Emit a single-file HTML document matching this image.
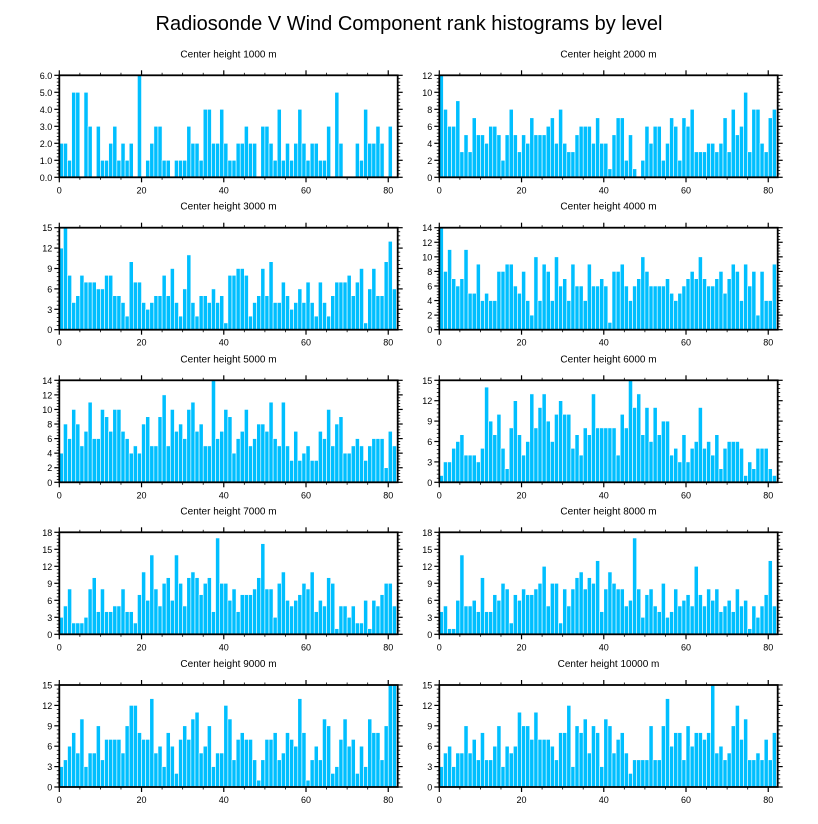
<!DOCTYPE html>
<html><head><meta charset="utf-8"><style>
body{margin:0;background:#fff;}
svg{display:block;font-family:"Liberation Sans",Arial,sans-serif;}
</style></head><body>
<svg id="chart" width="818" height="824" viewBox="0 0 818 824">
<text x="409" y="30" text-anchor="middle" font-size="20">Radiosonde V Wind Component rank histograms by level</text>
</svg>
<script>
const titles = ["Center height 1000 m","Center height 2000 m","Center height 3000 m","Center height 4000 m","Center height 5000 m","Center height 6000 m","Center height 7000 m","Center height 8000 m","Center height 9000 m","Center height 10000 m"];
const yMaxes = [6,12,15,14,14,15,18,18,15,15];
const yStepsMajor = [1,2,3,2,2,3,3,3,3,3];
const xTicks = [0,20,40,60,80];
const h1000 = [2,2,1,5,5,0,5,3,0,3, 1,1,2,3,1,2,1,2,0,6, 0,1,2,3,3,1,1,0,1,1, 1,3,2,2,1,4,4,2,2,4, 2,1,1,2,2,3,2,2,0,3, 3,2,1,4,1,2,1,2,4,2, 1,2,2,1,1,3,0,5,2,0, 0,0,2,1,4,2,2,3,2,0, 3,0];
const h2000 = [12,8,6,6,9,3,5,3,7,5, 5,4,6,6,5,2,5,8,5,3, 5,4,7,5,5,5,6,7,4,8, 4,3,3,5,6,6,6,4,7,4, 4,1,5,7,7,2,5,1,0,2, 6,4,6,6,2,4,7,6,2,7, 6,8,3,3,3,4,4,3,4,7, 3,8,5,6,10,3,8,8,4,3, 7,8];
const h3000 = [12,15,8,4,5,8,7,7,7,6, 6,8,8,5,5,4,2,10,7,7, 4,3,4,5,5,8,5,9,4,2, 6,11,4,2,5,5,4,6,4,5, 1,8,8,9,9,8,2,4,5,9, 5,10,4,4,7,5,3,4,6,4, 7,4,2,7,4,2,5,7,7,7, 8,5,7,9,1,6,9,5,5,10, 13,6];
const h4000 = [14,8,11,7,6,7,11,5,5,9, 4,5,4,4,8,8,9,9,6,5, 8,4,2,10,4,9,8,4,10,6, 7,4,9,6,6,4,9,6,6,7, 6,1,8,8,9,6,4,6,7,10, 8,6,6,6,6,7,5,4,5,6, 7,8,7,10,7,6,6,7,8,5, 7,9,8,4,9,6,8,2,8,4, 4,9];
const h5000 = [4,8,6,10,8,5,7,11,6,6, 10,9,7,10,10,7,6,4,5,4, 8,9,5,5,9,12,5,10,7,8, 6,10,11,7,8,5,5,14,6,7, 10,9,4,6,7,10,5,6,8,8, 7,11,6,5,11,5,3,7,3,4, 5,3,3,7,6,10,5,8,9,4, 4,5,6,5,3,5,6,6,6,2, 7,5];
const h6000 = [1,3,3,5,6,7,4,4,4,3, 5,14,9,7,10,5,2,8,12,7, 4,6,13,8,11,13,9,6,10,12, 10,10,5,7,4,8,7,13,8,8, 8,8,8,4,10,8,15,11,13,7, 11,6,11,7,9,9,4,5,3,7, 3,5,6,11,5,6,4,7,2,5, 6,6,6,5,1,3,2,5,5,5, 2,1];
const h7000 = [3,5,8,2,2,2,3,8,10,4, 8,4,4,5,5,8,4,4,2,7, 11,6,14,8,5,9,10,6,14,9, 5,10,11,10,7,9,10,4,17,9, 9,6,8,4,7,7,7,8,10,16, 8,8,3,9,11,6,5,6,7,9, 8,11,4,6,5,10,9,1,5,5, 3,5,2,2,6,1,6,5,7,9, 9,5];
const h8000 = [4,5,1,1,6,14,5,5,6,4, 10,4,4,7,6,9,8,2,7,6, 8,7,7,8,9,12,5,9,9,2, 8,5,8,10,11,8,10,9,13,4, 8,11,9,8,8,5,6,17,8,3, 7,8,5,4,9,3,4,8,5,6, 7,5,12,7,5,8,6,8,4,5, 6,4,8,5,6,1,5,3,5,7, 13,5];
const h9000 = [3,4,6,8,5,10,3,5,5,9, 4,7,7,7,7,5,9,12,12,8, 7,7,13,5,6,3,8,6,2,7, 9,7,10,11,5,6,9,3,5,5, 12,10,4,7,8,7,7,4,1,4, 7,7,8,4,5,8,7,6,13,8, 1,4,6,4,10,9,2,3,7,10, 6,7,2,6,3,10,8,8,4,9, 15,15];
const h10000 = [3,5,6,3,5,5,9,5,7,4, 8,4,4,6,9,3,6,5,6,11, 9,9,7,11,7,7,7,6,4,8, 8,12,3,9,8,10,5,9,8,3, 10,9,5,7,8,5,2,4,4,4, 4,9,4,4,9,13,6,8,8,4, 9,6,8,8,7,8,15,5,6,4, 5,9,12,7,10,4,4,5,4,7, 4,8];

const series = [h1000,h2000,h3000,h4000,h5000,h6000,h7000,h8000,h9000,h10000];
const NS = "http://www.w3.org/2000/svg";
const svg = document.getElementById("chart");
const colLeft = [59.3, 439.3];
const rowTop = [75.3, 227.7, 380.3, 532.3, 685];
const PW = 338.4, PH = 102, XMAX = 82.3;

function mk(tag, attrs, parent){
  const e = document.createElementNS(NS, tag);
  for (const k in attrs) e.setAttribute(k, attrs[k]);
  (parent||svg).appendChild(e);
  return e;
}

series.forEach((data, p) => {
  const x0 = colLeft[p % 2], y0 = rowTop[Math.floor(p / 2)];
  const ymax = yMaxes[p], step = yStepsMajor[p];
  const xs = v => x0 + v / XMAX * PW;
  const ys = v => y0 + PH - v / ymax * PH;
  const g = mk("g", {});
  
  

  const t = mk("text", {x: x0 + PW / 2, y: y0 - 18, "text-anchor": "middle", "font-size": "10"}, g);
  t.textContent = titles[p];
  
  

  data.forEach((v, i) => {
    if (v <= 0) return;
    const r = mk("rect", {x: xs(i), y: ys(v), width: xs(i + 1) - xs(i), height: ys(0) - ys(v),
      fill: "#00bfff", stroke: "#ffffff", "stroke-width": "0.6"}, g);
    
    
  });

  const fr = mk("rect", {x: x0, y: y0, width: PW, height: PH, fill: "none", stroke: "#000", "stroke-width": "1.8"}, g);
  
  

  // y ticks
  for (let v = 0; v <= ymax + 1e-9; v += step / 5) {
    const major = Math.abs(v / step - Math.round(v / step)) < 1e-6;
    const L = major ? 5 : 2.5;
    const y = ys(v);
    mk("line", {x1: x0 - L, x2: x0, y1: y, y2: y, stroke: "#000", "stroke-width": major ? 1.2 : 0.8}, g);
    mk("line", {x1: x0 + PW, x2: x0 + PW + L, y1: y, y2: y, stroke: "#000", "stroke-width": major ? 1.2 : 0.8}, g);
    if (major) {
      const lb = mk("text", {x: x0 - 7, y: y + 3.5, "text-anchor": "end", "font-size": "9"}, g);
      lb.textContent = p === 0 ? v.toFixed(1) : Math.round(v);
      
      
    }
  }
  // x ticks
  for (let v = 0; v <= 80; v += 5) {
    const major = xTicks.includes(v);
    const L = major ? 5 : 2.5;
    const x = xs(v);
    mk("line", {x1: x, x2: x, y1: y0 - L, y2: y0, stroke: "#000", "stroke-width": major ? 1.2 : 0.8}, g);
    mk("line", {x1: x, x2: x, y1: y0 + PH, y2: y0 + PH + L, stroke: "#000", "stroke-width": major ? 1.2 : 0.8}, g);
  }
  xTicks.forEach(v => {
    const lb = mk("text", {x: xs(v), y: y0 + PH + 16, "text-anchor": "middle", "font-size": "9"}, g);
    lb.textContent = v;
    
    
  });
});
</script>
</body></html>
